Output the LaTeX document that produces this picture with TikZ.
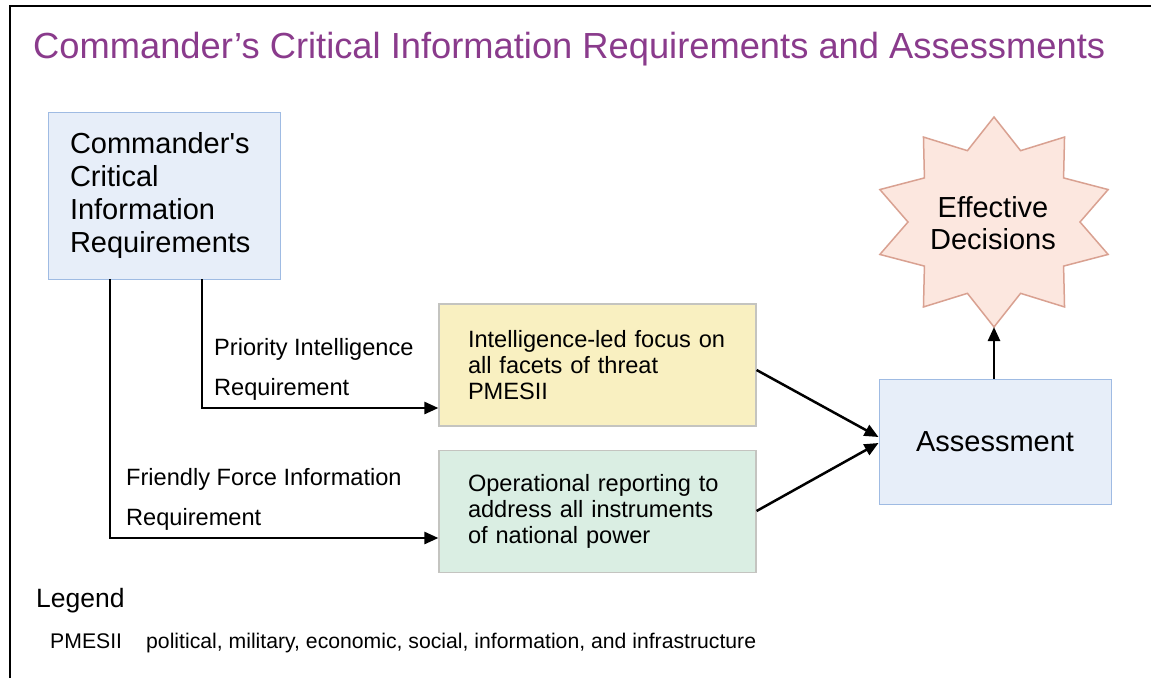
\documentclass[tikz,border=0pt]{standalone}
\usepackage{fontspec}
\setmainfont{Liberation Sans}[Ligatures=TeXOff]
\usetikzlibrary{arrows.meta}
\definecolor{titlepurple}{HTML}{8A3B8C}
\definecolor{bluefill}{HTML}{E7EEF9}
\definecolor{bluedraw}{HTML}{9FBBE3}
\definecolor{yelfill}{HTML}{F9F0C1}
\definecolor{greenfill}{HTML}{DAEEE3}
\definecolor{graydraw}{HTML}{C4C4C0}
\definecolor{starfill}{HTML}{FCE7DF}
\definecolor{stardraw}{HTML}{D9A191}
\tikzset{
  bigtext/.style={font=\fontsize{29}{32.7}\selectfont},
  midtext/.style={font=\fontsize{23.6}{26.3}\selectfont},
  lbltext/.style={font=\fontsize{23.6}{40}\selectfont},
  bluebox/.style={draw=bluedraw, fill=bluefill, line width=1pt, bigtext},
  infobox/.style={draw=graydraw, line width=1.2pt, midtext, align=left, minimum width=317, minimum height=122, text width=259, inner xsep=29},
  conn/.style={line width=2.5pt, -{Triangle[length=14pt,width=12pt]}},
}
\begin{document}
\begin{tikzpicture}[x=1pt,y=-1pt]
\useasboundingbox (0,0) rectangle (1151,678);
\fill[white] (0,0) rectangle (1151,678);
\draw[line width=2.5pt] (10,678) -- (10,6) -- (1151,6);
\node[anchor=base west, text=titlepurple, font=\fontsize{36.3}{40}\selectfont, inner sep=0] (title) at (33,58.5) {Commander’s Critical Information Requirements and Assessments};
% CCIR box
\node[bluebox, minimum width=232, minimum height=167, text width=188, inner xsep=22, align=left] (ccir) at (164,195.5) {Commander's\\Critical\\Information\\Requirements};
% info boxes
\node[infobox, fill=yelfill] (intel) at (597.5,365) {Intelligence-led focus on\\all facets of threat\\PMESII};
\node[infobox, fill=greenfill] (oper) at (597.5,511.5) {Operational reporting to\\address all instruments\\of national power};
% assessment
\node[bluebox, minimum width=232, minimum height=125] (assess) at (995,441.5) {Assessment};
% star
\draw[draw=stardraw, fill=starfill, line width=1.5pt, shift={(994,222)}]
 (90:120 and 105) -- (72:86 and 75) -- (54:120 and 105) -- (36:86 and 75) -- (18:120 and 105) -- (0:86 and 75)
 -- (-18:120 and 105) -- (-36:86 and 75) -- (-54:120 and 105) -- (-72:86 and 75) -- (-90:120 and 105)
 -- (-108:86 and 75) -- (-126:120 and 105) -- (-144:86 and 75) -- (-162:120 and 105) -- (180:86 and 75)
 -- (162:120 and 105) -- (144:86 and 75) -- (126:120 and 105) -- (108:86 and 75) -- cycle;
\coordinate (starbottom) at (994,327);
\node[bigtext, align=center] (decide) at (993,223) {Effective\\Decisions};
% connectors
\coordinate (pirstart) at (202,279);
\coordinate (ffirstart) at (110,279);
\draw[conn] (pirstart) |- (intel.west |- 0,408);
\draw[conn] (ffirstart) |- (oper.west |- 0,538);
\draw[conn] (intel.east |- 0,370) -- (assess.west |- 0,437);
\draw[conn] (oper.east |- 0,511) -- (assess.west |- 0,443);
\draw[conn] (assess.north -| starbottom) -- (starbottom);
% labels
\node[lbltext, anchor=west, inner sep=0] (pir1) at (214,349) {Priority Intelligence};
\node[lbltext, anchor=west, inner sep=0] (pir2) at (214,389) {Requirement};
\node[lbltext, anchor=west, inner sep=0] (ffir1) at (126,479) {Friendly Force Information};
\node[lbltext, anchor=west, inner sep=0] (ffir2) at (126,519) {Requirement};
% legend
\node[anchor=base west, inner sep=0, font=\fontsize{26.5}{30}\selectfont] (legend) at (36,607.5) {Legend};
\node[anchor=base west, inner sep=0, font=\fontsize{21.2}{25}\selectfont] (pm) at (50,648.5) {PMESII};
\node[anchor=base west, inner sep=0, font=\fontsize{21.2}{25}\selectfont] (pmdef) at (146,648.5) {political, military, economic, social, information, and infrastructure};
\end{tikzpicture}
\end{document}
